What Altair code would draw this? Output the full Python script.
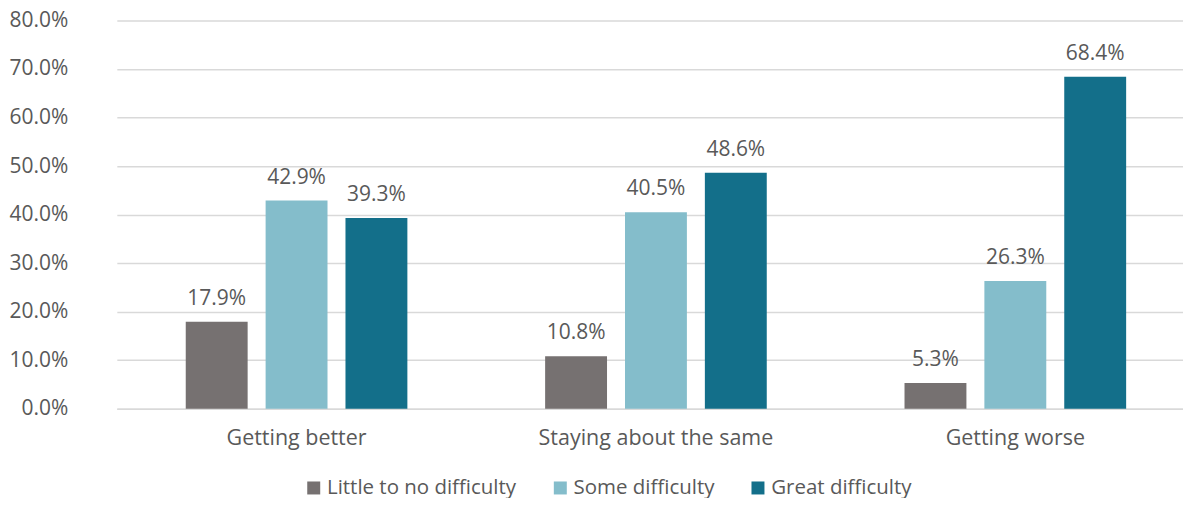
import altair as alt
import pandas as pd

categories = ["Getting better", "Staying about the same", "Getting worse"]
series = ["Little to no difficulty", "Some difficulty", "Great difficulty"]
little = [17.9, 10.8, 5.3]
some = [42.9, 40.5, 26.3]
great = [39.3, 48.6, 68.4]
colors = ["#767171", "#84BDCB", "#136F8A"]

rows = []
for i, c in enumerate(categories):
    for s, vals in zip(series, [little, some, great]):
        rows.append({"category": c, "series": s, "value": vals[i] / 100})
df = pd.DataFrame(rows)

FONT = "Open Sans"
TXT = "#595959"

yaxis = alt.Axis(format=".1%", values=[i / 10 for i in range(9)],
                 labelFontSize=21, labelColor=TXT, labelFont=FONT,
                 labelOverlap=False, labelLimit=0,
                 ticks=False, domain=False, labelPadding=49,
                 grid=True, gridColor="#D9D9D9", gridWidth=1.5)
yscale = alt.Scale(domain=[0, 0.8])

base = alt.Chart(df).encode(
    x=alt.X("category:N", sort=categories, title=None,
            scale=alt.Scale(paddingInner=0.3833, paddingOuter=0.175, align=0.548),
            axis=alt.Axis(labelAngle=0, labelFontSize=21.5, labelColor=TXT, labelFont=FONT,
                          labelLimit=0,
                          ticks=False, domain=True, domainColor="#D9D9D9", domainWidth=1.5,
                          labelPadding=19, grid=False)),
    xOffset=alt.XOffset("series:N", sort=series,
                        scale=alt.Scale(paddingInner=0.225, paddingOuter=0)),
)

bars = base.mark_bar().encode(
    y=alt.Y("value:Q", title=None, scale=yscale, axis=yaxis),
    color=alt.Color("series:N", sort=series,
                    scale=alt.Scale(domain=series, range=colors),
                    legend=alt.Legend(title=None, orient="none", direction="horizontal",
                                      legendX=187, legendY=458,
                                      symbolType="square", symbolSize=169,
                                      symbolStrokeWidth=0, labelFontSize=20.5,
                                      labelColor=TXT, labelFont=FONT, labelLimit=0,
                                      columnPadding=33, symbolOffset=0, labelOffset=3)),
)

labels = base.mark_text(dy=-17, fontSize=21, color=TXT, font=FONT,
                        baseline="alphabetic").encode(
    y=alt.Y("value:Q", title=None, scale=yscale, axis=yaxis),
    text=alt.Text("value:Q", format=".1%"),
)

chart = (bars + labels).properties(
    width=1068, height=389, background="white",
    autosize=alt.AutoSizeParams(type="none"),
    padding={"left": 109, "top": 12, "right": 0, "bottom": 89},
).configure_view(stroke=None)

chart.save("out.html", embed_options={"renderer": "svg", "actions": False})
